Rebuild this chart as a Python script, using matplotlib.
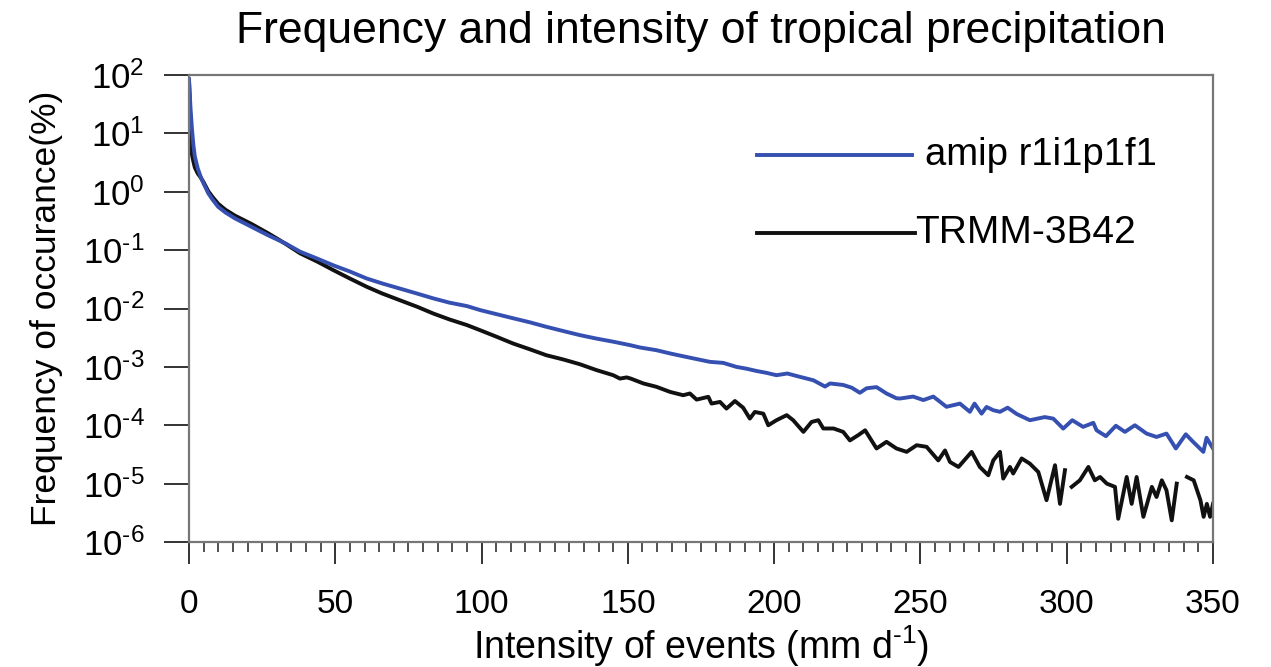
import numpy as np
import matplotlib
matplotlib.use("Agg")
import matplotlib.pyplot as plt
from matplotlib.ticker import MultipleLocator, FixedLocator, NullLocator
from matplotlib.lines import Line2D

# ---------------- data (frequency in %) ----------------
amip_x = [0, 0.5, 1, 1.5, 2, 3, 4, 5, 6.6, 8, 10, 12.5, 15.7, 21.4, 27, 33, 38, 44, 49.3, 55,
          60.7, 66, 72, 78, 83.5, 89, 95, 99.5, 103, 110.8, 116.5, 122.2, 128, 133.6, 139.3, 145,
          150.7, 154.1, 159.8, 164.4, 168.9, 173.5, 178, 182.6, 187.1, 190.6, 194, 197.4, 200.8,
          204.5, 208.8, 213.4, 217.4, 219.1, 223.6, 226.5, 229.3, 231.6, 235, 238.4, 241.8, 243,
          247.5, 251, 254.4, 258.9, 263.5, 266.9, 268.5, 270.9, 272.6, 274.9, 277.2, 279.8, 283,
          287.4, 292.5, 295.4, 298.8, 301.9, 305.6, 309.1, 310.2, 313.4, 316.8, 319.9, 323.3,
          327.3, 330.7, 334.1, 337.3, 340.7, 343.2, 346.7, 347.8, 350]
amip_y = [85, 28, 12, 6.3, 4.0, 2.5, 1.8, 1.38, 0.94, 0.74, 0.55, 0.44, 0.35, 0.25, 0.18, 0.13,
          0.094, 0.071, 0.055, 0.043, 0.0327, 0.0269, 0.022, 0.018, 0.0149, 0.0126, 0.011, 0.0094,
          0.0085, 0.0068, 0.0058, 0.00485, 0.0041, 0.0035, 0.00305, 0.0027, 0.00236, 0.00215,
          0.00193, 0.0017, 0.00152, 0.00136, 0.00122, 0.00117, 0.001, 0.00093, 0.00085, 0.00079,
          0.00072, 0.00077, 0.000675, 0.00059, 0.00046, 0.00052, 0.00049, 0.00044, 0.00036,
          0.00043, 0.00045, 0.00035, 0.00029, 0.000287, 0.00031, 0.00027, 0.00031, 0.000207,
          0.000235, 0.00017, 0.000235, 0.000158, 0.000206, 0.000181, 0.00017, 0.0002, 0.000155,
          0.000122, 0.000138, 0.00013, 8.77e-5, 0.000122, 9.38e-5, 0.00011, 8.2e-5, 6.5e-5, 9.8e-5,
          7.7e-5, 1.0e-4, 7.2e-5, 6.3e-5, 7.2e-5, 4.0e-5, 7.0e-5, 5.2e-5, 3.5e-5, 6.1e-5, 4.0e-5]

trmm_x = [0, 0.3, 0.6, 0.9, 1.5, 2, 3, 4, 5, 6.6, 8, 10, 12.5, 15.7, 21.4, 27, 31, 33, 38, 44,
          49.3, 55, 60.7, 66, 72, 78, 83.5, 89, 95, 99.5, 105.2, 110.8, 116.5, 122.2, 127.9, 133.6,
          139.3, 145, 147.3, 149.6, 151, 155.3, 159.8, 164.4, 168.9, 171.2, 173.5, 177.5, 178.6,
          181.5, 183.7, 186.6, 189.4, 191.7, 193.4, 196.3, 198, 200.8, 204.3, 206.5, 210, 212.8,
          215.1, 216.8, 220.3, 223.6, 225.9, 228.8, 231.1, 235, 238.4, 241.8, 245.3, 248.7, 252.1,
          256.1, 258.4, 260.1, 263, 267.5, 270.3, 273.2, 274.9, 277.2, 278.3, 280.6, 281.7, 284.6,
          287.4, 290.3, 293.1, 296, 297.7, 299.4, 300.5, 301.7, 304.5, 307.4, 309.6, 311.4, 313.7,
          316.5, 317.6, 320.5, 322.2, 323.9, 326.2, 329.1, 330.7, 332.5, 334.1, 335.9, 337.6, 339,
          341.1, 343.4, 345.7, 346.8, 347.9, 349, 350]
trmm_y = [80, 30, 10, 4.6, 3.3, 2.6, 2.05, 1.75, 1.45, 1.02, 0.82, 0.62, 0.49, 0.39, 0.28, 0.195,
          0.148, 0.128, 0.088, 0.063, 0.0455, 0.0326, 0.0236, 0.0181, 0.0139, 0.0107, 0.0082,
          0.0065, 0.0052, 0.00425, 0.00327, 0.00251, 0.0020, 0.00158, 0.00134, 0.00111, 0.00088,
          0.00072, 0.00063, 0.00066, 0.00063, 0.00052, 0.000455, 0.000373, 0.000327, 0.00035,
          0.000275, 0.000307, 0.000235, 0.000251, 0.000193, 0.00026, 0.0002, 0.00013, 0.000169,
          0.000158, 0.0001, 0.000122, 0.000149, 0.000122, 7.7e-5, 0.000114, 0.000122, 8.8e-5,
          8.8e-5, 7.7e-5, 5.5e-5, 6.8e-5, 8.2e-5, 4.0e-5, 5.2e-5, 4.0e-5, 3.5e-5, 4.55e-5,
          4.27e-5, 2.5e-5, 3.7e-5, 2.35e-5, 1.93e-5, 3.5e-5, 1.93e-5, 1.39e-5, 2.5e-5, 3.5e-5,
          1.22e-5, 1.93e-5, 1.49e-5, 2.7e-5, 2.2e-5, 1.58e-5, 5.2e-6, 2.07e-5, 4.5e-6, 1.7e-5,
          np.nan, 8.8e-6, 1.14e-5, 1.93e-5, 1.14e-5, 1.3e-5, 1.0e-5, 8.8e-6, 2.5e-6, 1.3e-5,
          4.5e-6, 1.3e-5, 2.7e-6, 8.8e-6, 5.9e-6, 1.14e-5, 7.7e-6, 2.35e-6, 1.0e-5, np.nan,
          1.3e-5, 1.14e-5, 5.2e-6, 2.7e-6, 4.5e-6, 2.7e-6, 4.5e-6]

series_labels = ["amip r1i1p1f1", "TRMM-3B42"]
ytick_vals = [1e-6, 1e-5, 1e-4, 1e-3, 1e-2, 1e-1, 1e0, 1e1, 1e2]
ytick_exps = ["-6", "-5", "-4", "-3", "-2", "-1", "0", "1", "2"]

# ---------------- style ----------------
plt.rcParams["font.family"] = ["Liberation Sans", "DejaVu Sans"]
plt.rcParams["mathtext.fontset"] = "custom"
plt.rcParams["mathtext.rm"] = "Liberation Sans"
plt.rcParams["mathtext.it"] = "Liberation Sans:italic"
plt.rcParams["mathtext.bf"] = "Liberation Sans:bold"

HY = "\u2010"  # short hyphen as in the reference
BLUE = "#3550b0"
BLACK = "#111111"
SPINE = "#777777"
LW = 2.8

fig = plt.figure(figsize=(12.71, 6.67), dpi=100)
ax = fig.add_axes([189 / 1271, 1 - 542 / 667, 1024 / 1271, 467 / 667])

ax.plot(trmm_x, trmm_y, color=BLACK, lw=LW, solid_joinstyle="round")
ax.plot(amip_x, amip_y, color=BLUE, lw=LW, solid_joinstyle="round")

ax.set_yscale("log")
ax.set_xlim(0, 350)
ax.set_ylim(1e-6, 1e2)

ax.yaxis.set_major_locator(FixedLocator(ytick_vals))
ax.yaxis.set_minor_locator(NullLocator())
ax.set_yticklabels(["$\\mathregular{10^{%s}}$" % e.replace("-", HY) for e in ytick_exps])
ax.xaxis.set_major_locator(MultipleLocator(50))
ax.xaxis.set_minor_locator(MultipleLocator(5))

for s in ax.spines.values():
    s.set_color(SPINE)
    s.set_linewidth(1.6)

ax.tick_params(axis="y", which="major", direction="out", length=18, width=1.4,
               color="#333333", labelsize=25, pad=14, right=False)
ax.tick_params(axis="x", which="major", direction="out", length=16, width=1.4,
               color="#333333", labelsize=24, pad=18, top=False)
ax.tick_params(axis="x", which="minor", direction="out", length=7, width=1.2,
               color="#333333", top=False)

ax.set_xlabel("Intensity of events (mm d$^{" + HY + "1}$)", fontsize=27, labelpad=2)
ax.set_ylabel("Frequency of occurance(%)", fontsize=25.5, labelpad=14)
ax.set_title("Frequency and intensity of tropical precipitation", fontsize=32, pad=23)

# legend drawn as in the reference (no frame)
ax.add_line(Line2D([0.555, 0.706], [0.829, 0.829], transform=ax.transAxes,
                   color=BLUE, lw=LW))
ax.text(0.719, 0.829, series_labels[0], transform=ax.transAxes, fontsize=27.5,
        va="center", ha="left")
ax.add_line(Line2D([0.555, 0.709], [0.662, 0.662], transform=ax.transAxes,
                   color=BLACK, lw=LW))
ax.text(0.709, 0.662, series_labels[1], transform=ax.transAxes, fontsize=28,
        va="center", ha="left")

fig.savefig("out.png", dpi=100)
